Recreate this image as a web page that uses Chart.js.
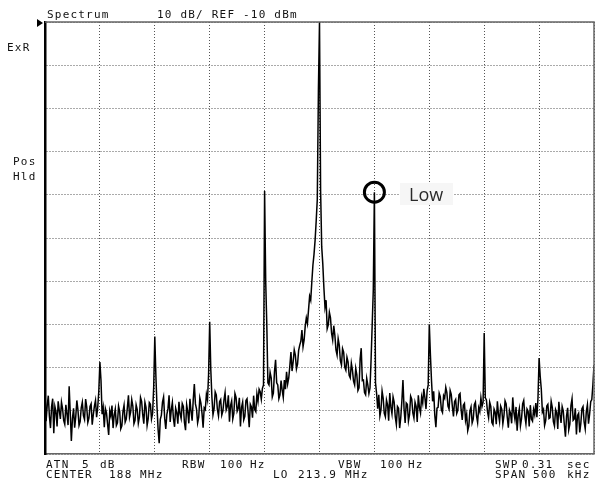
<!DOCTYPE html>
<html>
<head>
<meta charset="utf-8">
<script src="https://cdn.jsdelivr.net/npm/chart.js@4.4.1/dist/chart.umd.min.js"></script>
<style>
  html, body { margin: 0; padding: 0; background: #fff; }
  #wrap { position: relative; width: 599px; height: 484px; overflow: hidden; }
  #wrap canvas { position: absolute; left: 0; top: 0; }
  .t {
    position: absolute; white-space: pre; color: #111;
    font-family: "DejaVu Sans Mono", "Liberation Mono", monospace;
    font-size: 11px; line-height: 11px; letter-spacing: 1.2px;
  }
  #low {
    position: absolute; left: 400px; top: 183px; width: 53px; height: 22px;
    background: #f6f6f6; color: #2a2a2a;
    font-family: "Open Sans", "Noto Sans", sans-serif; font-size: 18px; line-height: 22px;
    padding-left: 9px; box-sizing: border-box;
  }
</style>
</head>
<body>
<div id="wrap">
  <canvas id="c" width="599" height="484"></canvas>
  <div id="labels"></div>
  <div id="low">Low</div>
</div>
<script>
/* Spectrum analyser trace: center 188 MHz, span 500 kHz, 10 dB/div, REF -10 dBm. */

// trace sampled every 1 kHz from -250 kHz to +250 kHz (offset from center), dBm
const TRACE_START_KHZ = -250;
const TRACE_STEP_KHZ = 1;
const traceDbm = [
  -95.9, -102.4, -98.8, -96.5, -101.2, -104.0, -99.0, -97.2, -105.2, -99.0,   // -250
  -100.2, -103.6, -97.8, -99.9, -101.9, -98.0, -99.5, -102.2, -103.1, -98.6,
  -100.8, -103.3, -94.3, -100.5, -107.0, -101.8, -99.4, -103.9, -101.4, -97.6,
  -99.8, -103.4, -102.5, -99.3, -98.0, -101.1, -102.0, -97.3, -99.1, -102.7,
  -101.7, -99.0, -98.4, -103.2, -100.9, -98.9, -97.6, -101.5, -99.3, -95.5,
  -88.7, -93.0, -100.8, -99.2, -103.8, -99.5, -100.5, -103.1, -105.6, -100.0, // -200
  -101.2, -98.8, -104.0, -101.0, -99.6, -103.4, -102.8, -98.9, -100.1, -104.2,
  -103.5, -100.2, -98.7, -102.6, -101.9, -99.3, -96.4, -101.5, -100.3, -97.4,
  -98.9, -103.0, -102.2, -98.6, -99.7, -102.9, -101.5, -96.9, -97.8, -100.9,
  -103.0, -98.0, -99.2, -103.4, -101.8, -98.1, -98.5, -101.9, -100.6, -94.5,
  -82.8, -92.0, -99.0, -104.3, -107.5, -102.0, -101.0, -98.0, -96.8, -101.7,  // -150
  -104.2, -100.8, -99.5, -96.4, -102.6, -99.8, -98.1, -101.9, -103.7, -99.4,
  -100.4, -103.0, -97.9, -100.7, -101.8, -98.3, -99.0, -102.7, -104.5, -98.6,
  -100.2, -102.9, -97.2, -100.1, -102.3, -97.5, -93.8, -98.4, -99.6, -102.8,
  -101.5, -97.0, -98.2, -100.6, -103.9, -99.3, -99.7, -96.2, -97.5, -91.5,
  -79.4, -90.5, -96.8, -100.9, -99.5, -95.6, -96.3, -99.7, -101.2, -97.9,     // -100
  -97.4, -101.0, -100.1, -97.5, -95.8, -99.8, -99.0, -96.4, -102.5, -98.8,
  -97.7, -101.9, -100.6, -96.0, -96.9, -100.1, -99.4, -97.0, -103.6, -99.2,
  -98.0, -102.1, -101.3, -97.6, -97.2, -100.4, -103.8, -98.5, -99.1, -101.6,
  -96.5, -99.7, -100.2, -96.1, -97.8, -95.0, -95.6, -97.3, -94.8, -94.0,
  -49.1, -70.0, -80.0, -93.5, -94.0, -91.1, -92.4, -96.8, -95.9, -91.0,       // -50
  -88.2, -93.5, -94.0, -97.2, -96.3, -93.0, -95.2, -96.9, -92.9, -95.0,
  -91.0, -93.8, -92.4, -89.6, -86.4, -90.8, -88.7, -85.9, -87.1, -90.3,
  -89.2, -86.0, -84.8, -83.9, -81.3, -85.2, -83.6, -80.4, -78.5, -79.8,
  -76.7, -73.5, -74.4, -70.2, -66.3, -63.8, -60.5, -56.0, -51.0, -26.0,
  -10.0, -49.0, -62.0, -66.0, -71.5, -76.0, -74.4, -81.0, -80.1, -77.2,       // 0
  -78.5, -82.0, -83.6, -80.3, -82.5, -85.9, -87.1, -83.3, -84.8, -88.4,
  -89.4, -85.6, -86.4, -89.9, -90.6, -87.6, -88.7, -91.8, -92.4, -89.0,
  -90.6, -93.1, -94.0, -90.2, -91.7, -95.3, -94.7, -88.0, -85.5, -93.0,
  -92.9, -95.8, -96.3, -92.5, -94.0, -96.0, -94.7, -88.0, -80.0, -72.0,
  -49.4, -93.5, -96.0, -99.5, -96.3, -101.2, -99.8, -95.4, -97.1, -100.6,     // +50
  -101.4, -97.5, -98.6, -102.3, -95.9, -99.1, -100.7, -96.8, -98.0, -101.4,
  -103.2, -99.0, -99.4, -104.0, -101.6, -97.8, -92.9, -99.5, -102.8, -98.2,
  -98.5, -102.4, -100.9, -96.6, -97.3, -100.5, -101.7, -98.0, -99.0, -102.6,
  -96.4, -99.2, -100.5, -96.8, -98.2, -94.9, -97.0, -99.6, -95.4, -94.0,
  -80.0, -87.0, -93.0, -97.8, -95.5, -101.0, -103.8, -99.4, -99.2, -95.9,     // +100
  -96.7, -99.8, -100.4, -96.5, -97.1, -94.6, -95.8, -98.9, -99.6, -95.3,
  -96.2, -99.0, -101.3, -97.9, -97.4, -100.6, -99.9, -96.3, -96.0, -99.8,
  -102.1, -98.7, -98.3, -102.2, -100.8, -104.6, -103.5, -100.0, -99.1, -102.8,
  -101.9, -98.6, -98.0, -101.2, -102.7, -99.3, -100.2, -97.0, -99.0, -98.0,
  -82.0, -97.0, -97.5, -100.2, -101.6, -98.0, -99.0, -102.7, -103.2, -99.6,   // +150
  -100.3, -103.1, -97.8, -100.8, -102.5, -98.9, -99.6, -103.0, -101.1, -97.7,
  -98.4, -101.5, -103.9, -99.8, -100.6, -102.9, -96.9, -100.3, -102.0, -99.1,
  -104.6, -101.0, -99.5, -103.5, -101.8, -98.4, -97.6, -101.1, -103.0, -99.6,
  -100.1, -103.6, -98.7, -101.9, -102.4, -99.7, -100.9, -98.2, -101.5, -97.0,
  -87.8, -92.0, -95.0, -100.3, -99.7, -103.4, -102.3, -98.9, -98.5, -101.8,   // +200
  -101.6, -97.8, -99.2, -102.5, -103.5, -99.7, -100.4, -104.2, -97.9, -100.9,
  -102.8, -99.0, -100.0, -103.3, -106.0, -101.2, -99.3, -104.4, -103.1, -98.8,
  -97.2, -102.2, -101.9, -99.4, -105.5, -101.1, -100.6, -105.0, -102.9, -99.5,
  -99.0, -102.6, -104.2, -100.2, -98.6, -103.0, -100.8, -97.9, -97.4, -94.0,
  -89.4,                                                                       // +250
];

// circled marker ("Low" spur)
const markerKHz = [50];
const markerDbm = [-49.4];

// screen annotations: [text, left, top]
const annotations = [
  ['Spectrum', 47, 9],
  ['10 dB/ REF -10 dBm', 157, 9],
  ['ExR', 7, 42],
  ['Pos', 13, 156],
  ['Hld', 13, 171],
  ['ATN', 46, 459], ['5', 82, 459], ['dB', 100, 459],
  ['RBW', 182, 459], ['100', 220, 459], ['Hz', 250, 459],
  ['VBW', 338, 459], ['100', 380, 459], ['Hz', 408, 459],
  ['SWP', 495, 459], ['0.31', 522, 459], ['sec', 567, 459],
  ['CENTER', 46, 469], ['188', 109, 469], ['MHz', 140, 469],
  ['LO', 273, 469], ['213.9', 298, 469], ['MHz', 345, 469],
  ['SPAN', 495, 469], ['500', 533, 469], ['kHz', 567, 469],
];

const labelsBox = document.getElementById('labels');
labelsBox.innerHTML = annotations.map(([s, x, y]) =>
  `<span class="t" style="left:${x}px;top:${y}px">${s}</span>`).join('');

const tracePoints = traceDbm.map((v, i) => ({ x: TRACE_START_KHZ + i * TRACE_STEP_KHZ, y: v }));
const markerPoints = markerKHz.map((f, i) => ({ x: f, y: markerDbm[i] }));

// top/right frame + reference level arrow
const framePlugin = {
  id: 'frame',
  afterDraw(chart) {
    const { ctx, chartArea: a } = chart;
    ctx.save();
    ctx.strokeStyle = '#666';
    ctx.lineWidth = 1.5;
    ctx.beginPath();
    ctx.moveTo(a.left, a.top);
    ctx.lineTo(a.right, a.top);
    ctx.lineTo(a.right, a.bottom);
    ctx.stroke();
    ctx.fillStyle = '#000';
    ctx.beginPath();
    ctx.moveTo(a.left - 8, a.top - 3);
    ctx.lineTo(a.left - 2, a.top + 1);
    ctx.lineTo(a.left - 8, a.top + 5);
    ctx.closePath();
    ctx.fill();
    ctx.restore();
  },
};

const gridStyle = { color: '#555', lineWidth: 1, drawTicks: false };

new Chart(document.getElementById('c'), {
  type: 'line',
  data: {
    datasets: [
      {
        data: tracePoints,
        borderColor: '#000',
        borderWidth: 1.5,
        pointRadius: 0,
        tension: 0,
        order: 2,
      },
      {
        data: markerPoints,
        showLine: false,
        pointStyle: 'circle',
        pointRadius: 10,
        pointBorderWidth: 3,
        pointBorderColor: '#000',
        pointBackgroundColor: 'rgba(0,0,0,0)',
        order: 1,
      },
    ],
  },
  options: {
    responsive: false,
    animation: false,
    events: [],
    layout: { autoPadding: false, padding: { left: 45, right: 5, top: 22, bottom: 30 } },
    plugins: { legend: { display: false }, tooltip: { enabled: false } },
    scales: {
      x: {
        type: 'linear', min: -250, max: 250,
        ticks: { display: false, stepSize: 50 },
        grid: gridStyle,
        border: { display: true, color: '#666', width: 1.5, dash: [1, 2] },
      },
      y: {
        type: 'linear', min: -110, max: -10,
        ticks: { display: false, stepSize: 10 },
        grid: gridStyle,
        border: { display: true, color: '#000', width: 2.5, dash: [1, 2] },
      },
    },
  },
  plugins: [framePlugin],
});
</script>
</body>
</html>
